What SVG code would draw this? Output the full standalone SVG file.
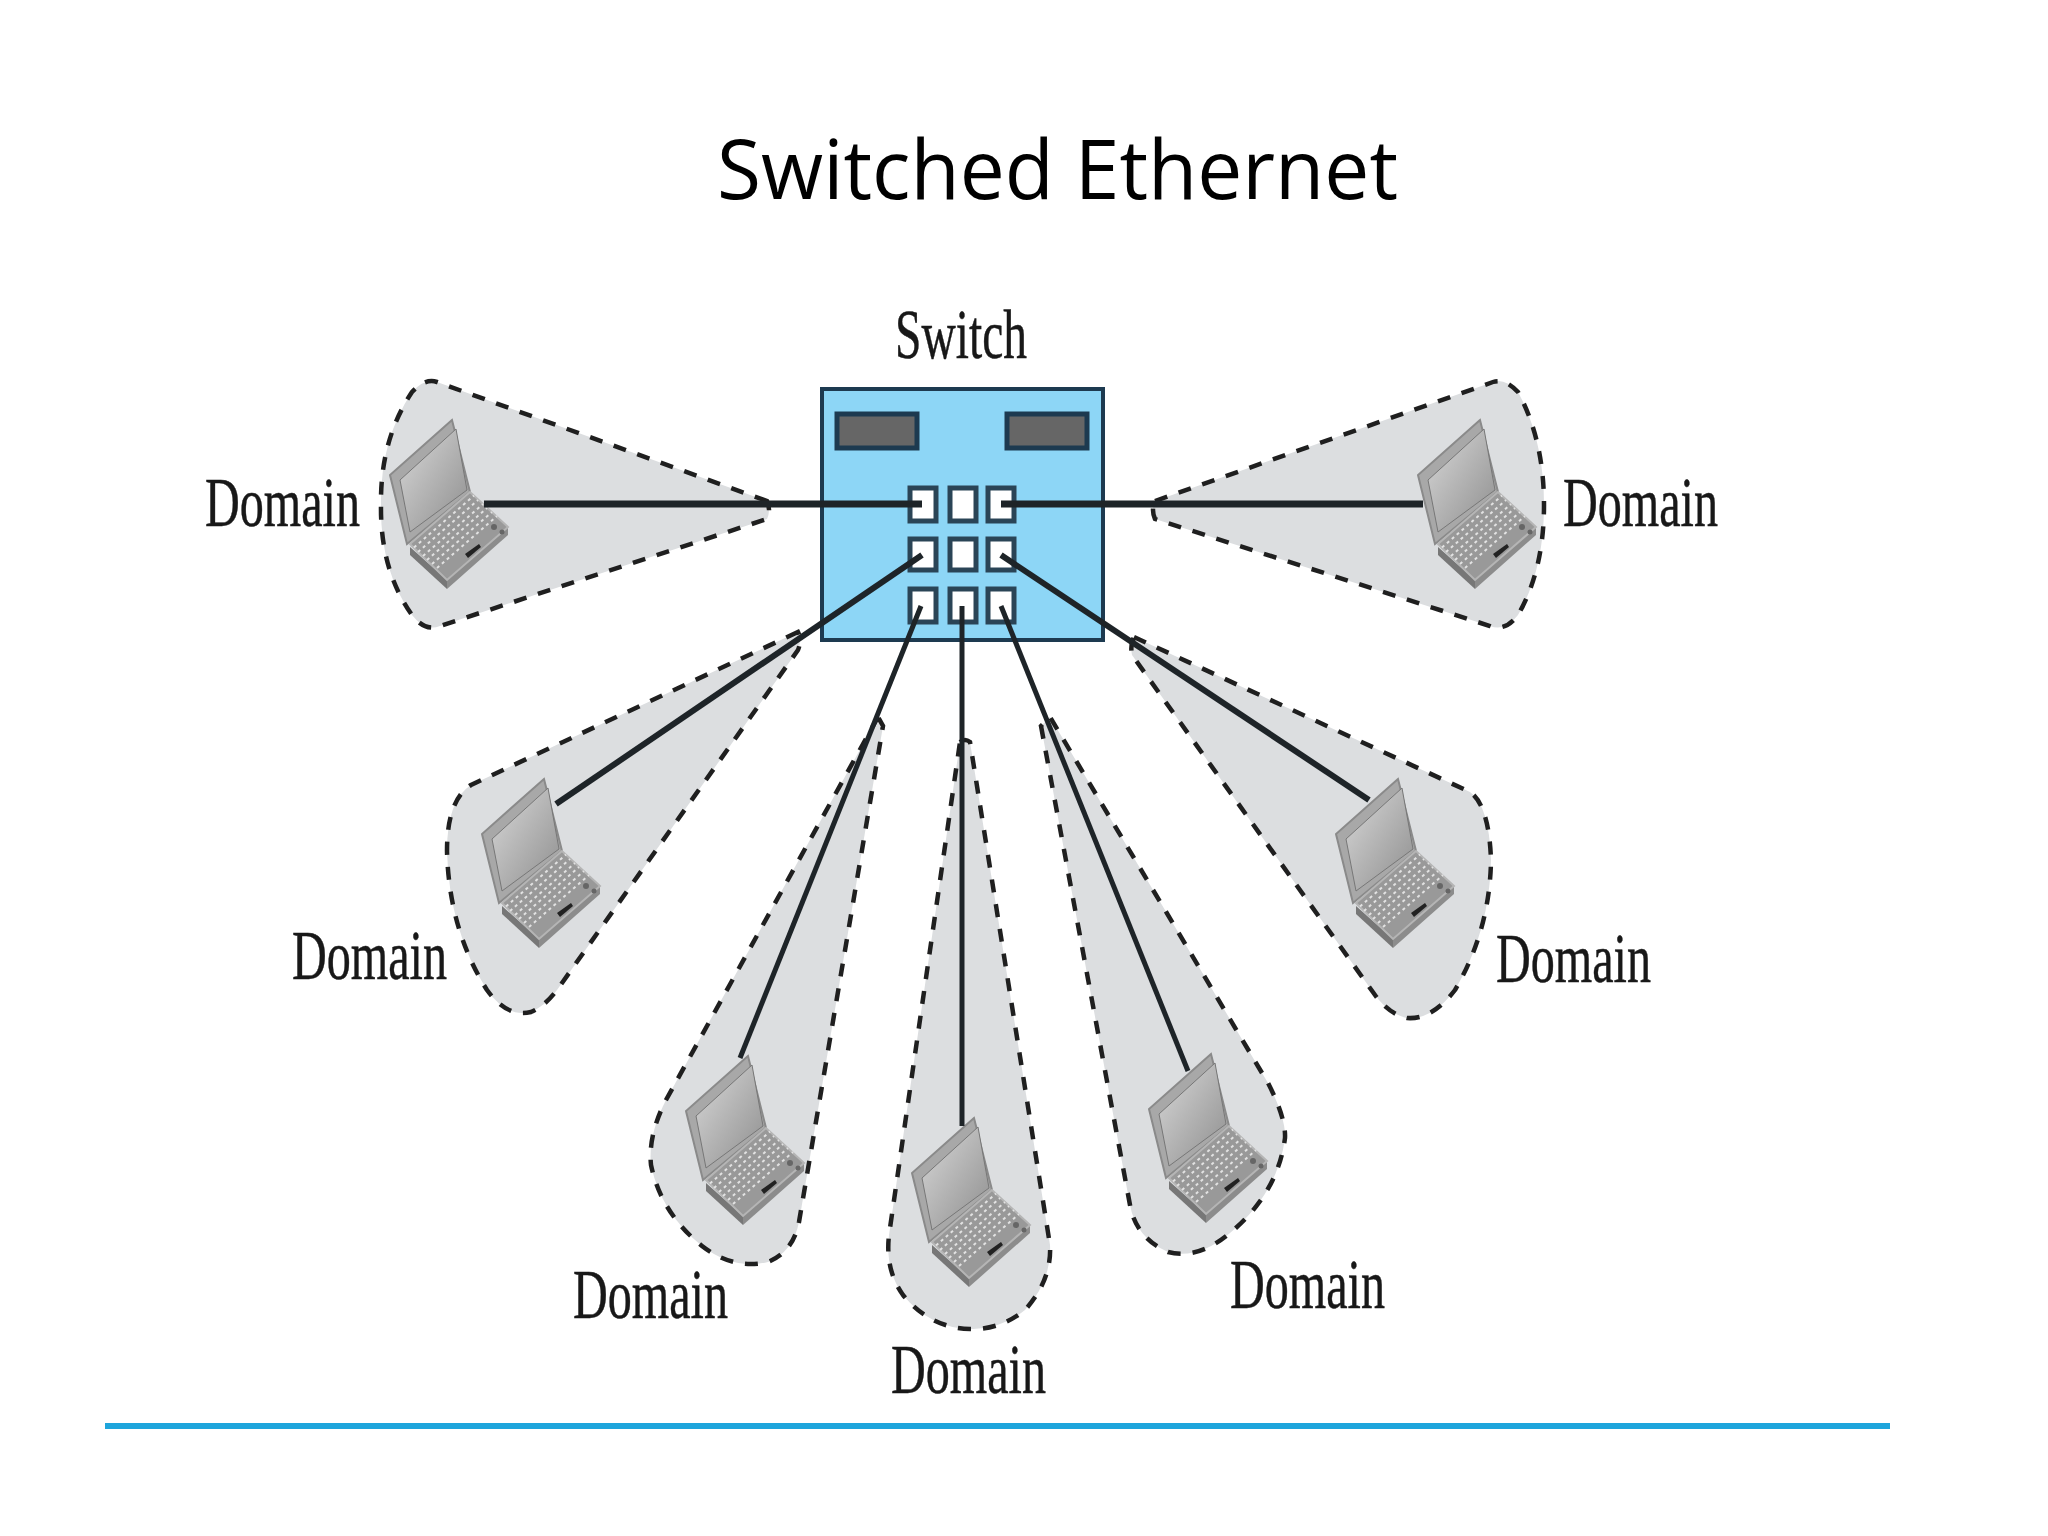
<svg xmlns="http://www.w3.org/2000/svg" xmlns:xlink="http://www.w3.org/1999/xlink" width="2048" height="1536" viewBox="0 0 2048 1536">
<style>
.wedge{fill:#dcdee0;stroke:#1f1f1f;stroke-width:4.500;stroke-dasharray:13 12}
.lbl{font-family:"Liberation Serif","Times New Roman",serif;font-size:70px;fill:#181818;stroke:#181818;stroke-width:.5}
.title{font-family:"Open Sans",Lato,sans-serif;font-size:82px;fill:#000}
.port{fill:#fff;stroke:#2a4456;stroke-width:5}
.panel{fill:#666;stroke:#1d3a50;stroke-width:5}
.conn{fill:none;stroke:#1e2428;stroke-linecap:butt}
</style>
<defs>
<linearGradient id="scr" x1="0" y1="0" x2="1" y2="1"><stop offset="0" stop-color="#d8d8d8"/><stop offset="1" stop-color="#8e8e8e"/></linearGradient>
<g id="laptop">
<path d="M0 0L-62 55L-45 124L18 72Z" fill="#a8a8a8" stroke="#8a8a8a" stroke-width="2"/>
<path d="M4 9L-52 60L-42 112L15 70Z" fill="url(#scr)" stroke="#777" stroke-width="1"/>
<path d="M-42 127L-5 160L-5 169L-42 135Z" fill="#777"/>
<path d="M-5 160L56 107L56 115L-5 169Z" fill="#8c8c8c"/>
<path d="M-42 124L18 72L56 107L-5 160Z" fill="#999" stroke="#b5b5b5" stroke-width="2"/>
<g fill="none" stroke="#e2e2e2" stroke-width="2" stroke-dasharray="3 3.5">
<path d="M-38 127.500L22 75.500M-34 132L26 80M-29 136L31 84M-25 140L35 88M-20 144L40 92M-15 148L45 96"/>
</g>
<path d="M13 134L27 124L29 127L16 138Z" fill="#222"/>
<circle cx="42" cy="107" r="3" fill="#666"/><circle cx="50" cy="112" r="2.500" fill="#666"/>
</g>
</defs>
<rect width="2048" height="1536" fill="#fff"/>
<text id="title" class="title" x="717" y="199" textLength="681" lengthAdjust="spacingAndGlyphs">Switched Ethernet</text>

<g id="domain-top-left">
<path class="wedge" d="M767 501L437 382Q425 378 412 392Q380 440 381 505Q380 570 412 615Q425 632 440 626L767 519Q771 510 767 501Z"/>
<use xlink:href="#laptop" href="#laptop" x="452" y="420"/>
<text class="lbl" x="205" y="526" textLength="155" lengthAdjust="spacingAndGlyphs">Domain</text>
</g>
<g id="domain-top-right">
<path class="wedge" d="M1155 501L1493 382Q1505 378 1518 392Q1544 440 1544 505Q1544 570 1518 615Q1505 632 1490 626L1155 519Q1151 510 1155 501Z"/>
<use xlink:href="#laptop" href="#laptop" x="1480" y="420"/>
<text class="lbl" x="1563" y="526" textLength="155" lengthAdjust="spacingAndGlyphs">Domain</text>
</g>
<g id="domain-left">
<path class="wedge" d="M798 632L471 785Q447 800 447 851Q449 930 487 990Q507 1018 531 1012Q545 1006 557 990L798 650Q802 640 798 632Z"/>
<use xlink:href="#laptop" href="#laptop" x="544" y="779"/>
<text class="lbl" x="292" y="979" textLength="155" lengthAdjust="spacingAndGlyphs">Domain</text>
</g>
<g id="domain-lower-left">
<path class="wedge" d="M878 717L666 1100Q648 1135 651 1165Q661 1213 702 1246Q733 1270 768 1262Q793 1252 799 1222L883 726Z"/>
<use xlink:href="#laptop" href="#laptop" x="748" y="1056"/>
<text class="lbl" x="573" y="1318" textLength="155" lengthAdjust="spacingAndGlyphs">Domain</text>
</g>
<g id="domain-bottom">
<path class="wedge" d="M960 742Q965 738 970 742L1050 1245Q1052 1280 1025 1310Q1000 1330 970 1329Q930 1328 903 1295Q885 1270 889 1235Z"/>
<use xlink:href="#laptop" href="#laptop" x="974" y="1118"/>
<text class="lbl" x="891" y="1393" textLength="155" lengthAdjust="spacingAndGlyphs">Domain</text>
</g>
<g id="domain-lower-right">
<path class="wedge" d="M1041 726L1130 1205Q1136 1238 1168 1252Q1198 1260 1230 1233Q1278 1193 1285 1138Q1286 1118 1268 1083L1050 717Z"/>
<use xlink:href="#laptop" href="#laptop" x="1211" y="1054"/>
<text class="lbl" x="1230" y="1308" textLength="155" lengthAdjust="spacingAndGlyphs">Domain</text>
</g>
<g id="domain-right">
<path class="wedge" d="M1134 637L1470 792Q1489 805 1491 860Q1490 930 1455 990Q1432 1020 1407 1018Q1389 1014 1375 995L1132 655Q1130 645 1134 637Z"/>
<use xlink:href="#laptop" href="#laptop" x="1398" y="779"/>
<text class="lbl" x="1496" y="982" textLength="155" lengthAdjust="spacingAndGlyphs">Domain</text>
</g>

<g id="switch">
<rect x="822" y="389" width="281" height="251" fill="#8dd6f6" stroke="#1d3a50" stroke-width="4"/>
<rect class="panel" x="837" y="414" width="80" height="34"/>
<rect class="panel" x="1007" y="414" width="80" height="34"/>
<rect class="port" x="910" y="488" width="26" height="33"/>
<rect class="port" x="950" y="488" width="26" height="33"/>
<rect class="port" x="988" y="488" width="26" height="33"/>
<rect class="port" x="910" y="539" width="26" height="31"/>
<rect class="port" x="950" y="539" width="26" height="31"/>
<rect class="port" x="988" y="539" width="26" height="31"/>
<rect class="port" x="910" y="589" width="26" height="33"/>
<rect class="port" x="950" y="589" width="26" height="33"/>
<rect class="port" x="988" y="589" width="26" height="33"/>
<text class="lbl" x="895" y="358" textLength="132" lengthAdjust="spacingAndGlyphs">Switch</text>
</g>

<g id="connectors">
<path class="conn" stroke-width="7" d="M484 504H922"/>
<path class="conn" stroke-width="7" d="M1001 504H1423"/>
<path class="conn" stroke-width="6" d="M922 555L556 804"/>
<path class="conn" stroke-width="6" d="M1001 555L1369 800"/>
<path class="conn" stroke-width="5" d="M921 606L740 1058"/>
<path class="conn" stroke-width="5" d="M962 606V1126"/>
<path class="conn" stroke-width="5" d="M1001 606L1188 1071"/>
</g>
<rect id="rule" x="105" y="1423" width="1785" height="6" fill="#1ea5dc"/>
</svg>
